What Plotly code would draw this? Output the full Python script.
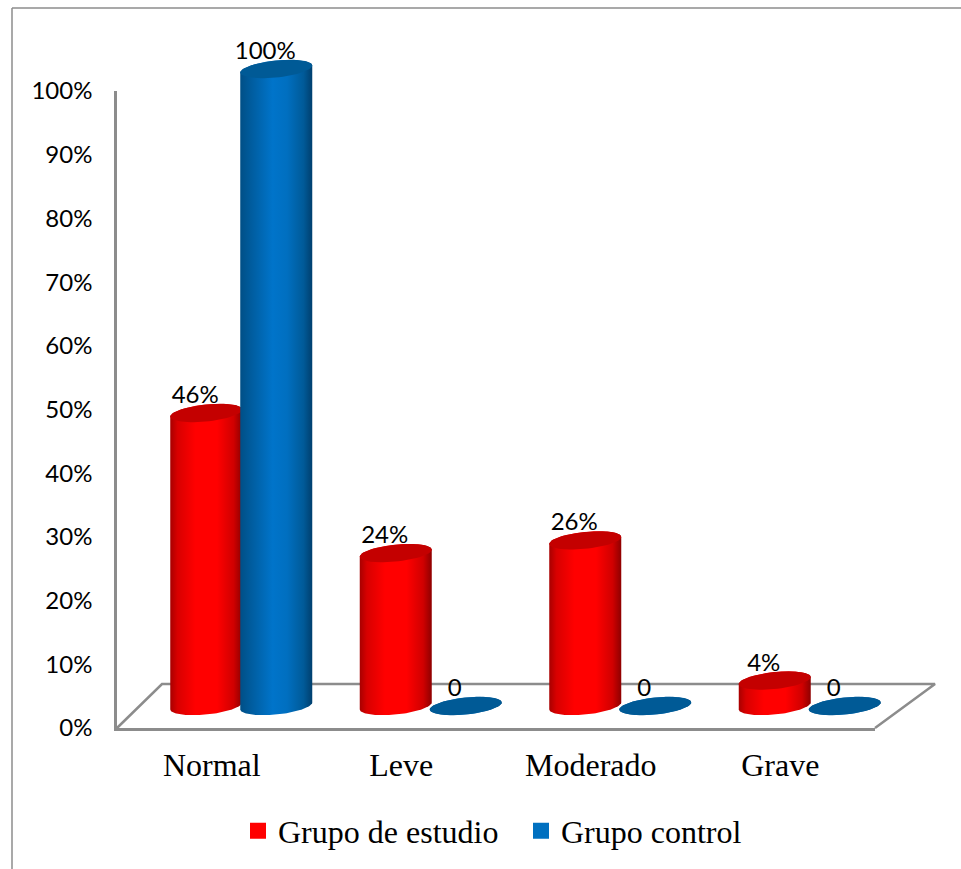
import numpy as np
import plotly.graph_objects as go

categories = ["Normal", "Leve", "Moderado", "Grave"]
estudio = [46, 24, 26, 4]
control = [100, 0, 0, 0]
y_ticks = list(range(0, 101, 10))

W, H = 961, 869
LEFT, RIGHT, TOP, BOTTOM = 117, 875, 91, 728
MARGIN_T, MARGIN_B = 30, 90
PAPER_H = H - MARGIN_T - MARGIN_B
PX_X = (RIGHT - LEFT) / len(categories)
PX_Y = (BOTTOM - TOP) / 100
GREY = "#8c8c8c"
SERIF = "Liberation Serif"
SANS = "Lato"


def dx(px):
    return px / PX_X


def dy(px):
    return px / PX_Y


def paper_y(px):
    return (H - MARGIN_B - px) / PAPER_H


BASE = dy(22)
SEMI_A, SEMI_B, TILT = dx(36), dy(8.5), dy(3.5)
# Wider axes share the scale of the visible axes, so marks can extend past
# the axis box without being clipped.
FULL_X = [-0.5 - dx(LEFT), 3.5 + dx(W - RIGHT)]
FULL_Y = [-dy(H - MARGIN_B - BOTTOM), 100 + dy(TOP - MARGIN_T)]
ON_FULL = dict(xaxis="x2", yaxis="y2", cliponaxis=False, showlegend=False, hoverinfo="skip")


def edge(cx, level, start, stop):
    t = np.linspace(start, stop, 60)
    return cx + SEMI_A * np.cos(t), level + SEMI_B * np.sin(t) + TILT * np.cos(t)


def cylinder(cx, value, stops):
    # Body outline: front half of the base, then back half of the top rim.
    xb, yb = edge(cx, BASE, np.pi, 2 * np.pi)
    xt, yt = edge(cx, BASE + value, 0, np.pi)
    return go.Scatter(
        x=np.r_[xb, xt], y=np.r_[yb, yt], mode="lines", fill="toself",
        line=dict(width=0), fillgradient=dict(type="horizontal", colorscale=stops), **ON_FULL,
    )


def caps(centers, values, color):
    xs, ys = [], []
    for cx, v in zip(centers, values):
        x, y = edge(cx, BASE + v, 0, 2 * np.pi)
        xs += list(x) + [None]
        ys += list(y) + [None]
    return go.Scatter(
        x=xs, y=ys, mode="lines", fill="toself", fillcolor=color, line=dict(width=0), **ON_FULL,
    )


RED_STOPS = [[0, "#a80000"], [0.1, "#d80000"], [0.35, "#ff0000"], [0.65, "#ff0000"], [0.88, "#d00000"], [1, "#8e0000"]]
BLUE_STOPS = [[0, "#004f86"], [0.15, "#005c9e"], [0.45, "#0074ca"], [0.65, "#006fc0"], [0.88, "#005a98"], [1, "#003f6e"]]

idx = np.arange(len(categories))
red_x = idx + dx(-5.5)
blue_x = idx + dx(64.5)

fig = go.Figure()

# Legend entries; they also keep the visible axes in use.
for name, color in (("Grupo de estudio", "#ff0000"), ("Grupo control", "#0070c0")):
    fig.add_trace(go.Scatter(
        x=[None], y=[None], mode="markers", name=name,
        marker=dict(symbol="square", size=16, color=color),
    ))

# Floor of the chart: back edge and the two receding sides.
depth_x, depth_y = dx(45), dy(44)
fig.add_trace(go.Scatter(
    x=[-0.5, -0.5 + depth_x, 3.5 + dx(60), 3.5], y=[0, depth_y, depth_y, 0],
    mode="lines", line=dict(color=GREY, width=2.5), **ON_FULL,
))

for cx, v in zip(red_x, estudio):
    fig.add_trace(cylinder(cx, v, RED_STOPS))
fig.add_trace(caps(red_x, estudio, "#c40000"))
for cx, v in zip(blue_x, control):
    fig.add_trace(cylinder(cx, v, BLUE_STOPS))
fig.add_trace(caps(blue_x, control, "#005a96"))

# Value labels sit just above each cap.
label_x = list(red_x + dx(-11)) + list(blue_x + dx(-11))
values = estudio + control
fig.add_trace(go.Scatter(
    x=label_x, y=[BASE + v + dy(16) for v in values], mode="text",
    text=[f"{v}%" if v else "0" for v in values],
    textposition="middle center", textfont=dict(family=SANS, size=24, color="#000"),
    **ON_FULL,
))


fig.update_layout(
    width=W, height=H, autosize=False,
    margin=dict(l=0, r=0, t=MARGIN_T, b=MARGIN_B, pad=0),
    paper_bgcolor="white", plot_bgcolor="rgba(0,0,0,0)",
    xaxis=dict(
        domain=[LEFT / W, RIGHT / W],
        range=[-0.5, 3.5], tickmode="array", tickvals=list(idx), ticktext=categories,
        showgrid=False, zeroline=False, showline=True, linecolor=GREY, linewidth=2.5,
        ticks="", ticklabelstandoff=7, tickfont=dict(family=SERIF, size=32, color="#000"),
    ),
    yaxis=dict(
        domain=[paper_y(BOTTOM), paper_y(TOP)],
        range=[0, 100], tickmode="array", tickvals=y_ticks, ticktext=[f"{v}%" for v in y_ticks],
        showgrid=False, zeroline=False, showline=True, linecolor=GREY, linewidth=2.5,
        ticks="", ticklabelstandoff=17, tickfont=dict(family=SANS, size=24, color="#000"),
    ),
    xaxis2=dict(domain=[0, 1], range=FULL_X, visible=False, anchor="y2"),
    yaxis2=dict(domain=[0, 1], range=FULL_Y, visible=False, anchor="x2"),
    legend=dict(
        orientation="h", xref="paper", yref="paper",
        x=238 / W, xanchor="left", y=paper_y(831), yanchor="middle",
        font=dict(family=SERIF, size=32, color="#000"),
        itemclick=False, itemdoubleclick=False, entrywidth=238, entrywidthmode="pixels",
        bgcolor="rgba(0,0,0,0)", itemwidth=30,
    ),
    shapes=[
        dict(type="line", xref="paper", yref="paper", x0=12 / W, x1=12 / W,
             y0=paper_y(8), y1=paper_y(H), line=dict(color=GREY, width=1.5)),
        dict(type="line", xref="paper", yref="paper", x0=12 / W, x1=1,
             y0=paper_y(8), y1=paper_y(8), line=dict(color=GREY, width=1.5)),
    ],
)

fig.write_html("out.html")
